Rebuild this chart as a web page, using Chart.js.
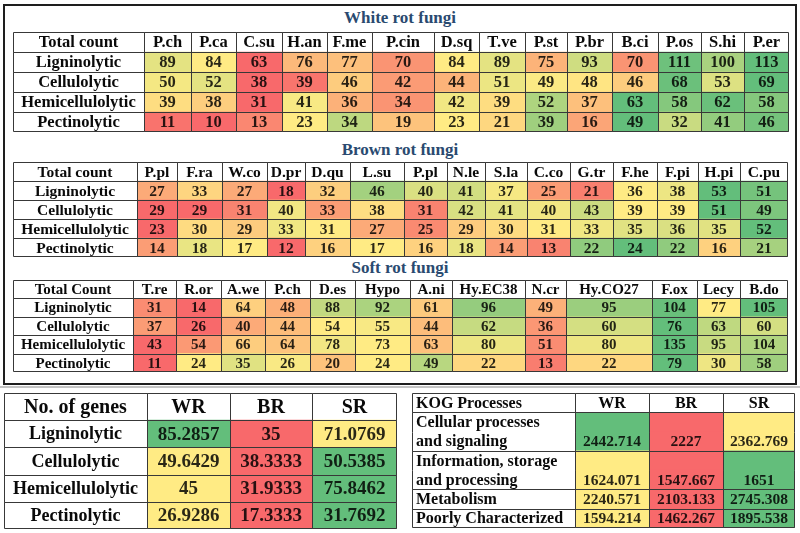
<!DOCTYPE html>
<html>
<head>
<meta charset="utf-8">
<script src="https://cdn.jsdelivr.net/npm/chart.js@4.4.0/dist/chart.umd.min.js"></script>
<style>
  html, body { margin: 0; padding: 0; background: #ffffff; }
  #page { position: relative; width: 800px; height: 533px; overflow: hidden; background: #fff; }
  canvas { position: absolute; display: block; }
  .title { position: absolute; left: 0; width: 800px; text-align: center; font: bold 17px "Liberation Serif", "Times New Roman", serif; color: #2a4a70; line-height: 20px; }
  #frame { position: absolute; left: 3px; top: 4px; width: 794px; height: 381px; box-sizing: border-box; border: 2px solid #1e1e1e; }
  #shadow { position: absolute; left: 0; top: 386px; width: 800px; height: 2px; background: #c4c4c4; }
</style>
</head>
<body>
<div id="page">
  <div id="frame"></div>
  <div id="shadow"></div>
  <div class="title" style="top:8px">White rot fungi</div>
  <div class="title" style="top:140px">Brown rot fungi</div>
  <div class="title" style="top:258px">Soft rot fungi</div>
  <canvas id="white" style="left:13px;top:32px"></canvas>
  <canvas id="brown" style="left:13px;top:162px"></canvas>
  <canvas id="soft" style="left:13px;top:280px"></canvas>
  <canvas id="genes" style="left:4px;top:393px"></canvas>
  <canvas id="kog" style="left:412px;top:393px"></canvas>
</div>
<script>
// ---------------- DATA ----------------
const rowLabels = ['Ligninolytic', 'Cellulolytic', 'Hemicellulolytic', 'Pectinolytic'];

const whiteSpecies = ['P.ch','P.ca','C.su','H.an','F.me','P.cin','D.sq','T.ve','P.st','P.br','B.ci','P.os','S.hi','P.er'];
const whiteLig  = [89, 84, 63, 76, 77, 70, 84, 89, 75, 93, 70, 111, 100, 113];
const whiteCel  = [50, 52, 38, 39, 46, 42, 44, 51, 49, 48, 46, 68, 53, 69];
const whiteHemi = [39, 38, 31, 41, 36, 34, 42, 39, 52, 37, 63, 58, 62, 58];
const whitePec  = [11, 10, 13, 23, 34, 19, 23, 21, 39, 16, 49, 32, 41, 46];

const brownSpecies = ['P.pl','F.ra','W.co','D.pr','D.qu','L.su','P.pl','N.le','S.la','C.co','G.tr','F.he','F.pi','H.pi','C.pu'];
const brownLig  = [27, 33, 27, 18, 32, 46, 40, 41, 37, 25, 21, 36, 38, 53, 51];
const brownCel  = [29, 29, 31, 40, 33, 38, 31, 42, 41, 40, 43, 39, 39, 51, 49];
const brownHemi = [23, 30, 29, 33, 31, 27, 25, 29, 30, 31, 33, 35, 36, 35, 52];
const brownPec  = [14, 18, 17, 12, 16, 17, 16, 18, 14, 13, 22, 24, 22, 16, 21];

const softSpecies = ['T.re','R.or','A.we','P.ch','D.es','Hypo','A.ni','Hy.EC38','N.cr','Hy.CO27','F.ox','Lecy','B.do'];
const softLig  = [31, 14, 64, 48, 88, 92, 61, 96, 49, 95, 104, 77, 105];
const softCel  = [37, 26, 40, 44, 54, 55, 44, 62, 36, 60, 76, 63, 60];
const softHemi = [43, 54, 66, 64, 78, 73, 63, 80, 51, 80, 135, 95, 104];
const softPec  = [11, 24, 35, 26, 20, 24, 49, 22, 13, 22, 79, 30, 58];

const rotGroups = ['WR', 'BR', 'SR'];
const genesLig  = [85.2857, 35, 71.0769];
const genesCel  = [49.6429, 38.3333, 50.5385];
const genesHemi = [45, 31.9333, 75.8462];
const genesPec  = [26.9286, 17.3333, 31.7692];

const kogProcesses = [['Cellular processes', 'and signaling'], ['Information, storage', 'and processing'], ['Metabolism'], ['Poorly Characterized']];
const kogCellular = [2442.714, 2227, 2362.769];
const kogInfo     = [1624.071, 1547.667, 1651];
const kogMeta     = [2240.571, 2103.133, 2745.308];
const kogPoor     = [1594.214, 1462.267, 1895.538];

// ---------------- LAYOUT (column widths in px) ----------------
const whiteWidths = [131, 47, 45, 46, 45, 45, 62, 45, 46, 42, 45, 46, 43, 43, 45];
const brownWidths = [124, 40, 45, 45, 38, 45, 54, 43, 38, 42, 43, 43, 44, 41, 42, 48];
const softWidths  = [120, 43, 45, 44, 45, 45, 55, 42, 73, 41, 86, 45, 43, 48];
const genesWidths = [143, 83, 82, 85];
const kogWidths   = [163, 74, 74, 72];

// ---------------- COLOUR SCALE (Excel 3-colour: min red, median yellow, max green) ----------------
const RED = [248, 105, 107], YEL = [255, 235, 132], GRN = [99, 190, 123];
function median(arr) {
  const s = [...arr].sort((a, b) => a - b);
  const p = (s.length - 1) * 0.5, lo = Math.floor(p), hi = Math.ceil(p);
  return s[lo] + (s[hi] - s[lo]) * (p - lo);
}
function mix(a, b, t) {
  t = Math.max(0, Math.min(1, t));
  return 'rgb(' + a.map((c, i) => Math.round(c + (b[i] - c) * t)).join(',') + ')';
}
function heat(v, row) {
  const mn = Math.min(...row), mx = Math.max(...row), md = median(row);
  if (v <= md) return md === mn ? mix(RED, YEL, 1) : mix(RED, YEL, (v - mn) / (md - mn));
  return mx === md ? mix(YEL, GRN, 1) : mix(YEL, GRN, (v - md) / (mx - md));
}

// ---------------- TABLE PLUGIN ----------------
const tableCells = {
  id: 'tableCells',
  afterDraw(chart, args, opts) {
    const ctx = chart.ctx, W = chart.width, H = chart.height;
    const join = opts.join;
    const sx = v => Math.min(Math.max(Math.round(v), 0), W - 1) + 0.5;
    const sy = v => Math.min(Math.max(Math.round(v), 0), H - 1) + 0.5;
    ctx.save();
    chart.data.datasets.forEach((ds, di) => {
      chart.getDatasetMeta(di).data.forEach((el, ri) => {
        const p = el.getProps(['x', 'y', 'base', 'height'], true);
        const left = Math.min(p.x, p.base), right = Math.max(p.x, p.base);
        const top = p.y - p.height / 2, bottom = p.y + p.height / 2;
        const t = ds.cellText[ri];
        if (t) {
          const isHeader = ri === 0, isLabel = di === 0;
          ctx.font = isHeader ? opts.headerFont : (isLabel ? opts.labelFont : opts.valueFont);
          ctx.fillStyle = (isHeader || isLabel) ? '#0a0a0a' : 'rgba(0,0,0,0.84)';
          ctx.textBaseline = 'middle';
          let tx;
          if (isLabel && opts.labelAlign === 'left') { ctx.textAlign = 'left'; tx = left + opts.labelPad; }
          else { ctx.textAlign = 'center'; tx = (left + right) / 2; }
          ctx.fillText(t, tx, p.y + opts.textShift);
        }
        ctx.strokeStyle = '#383838';
        ctx.lineWidth = 1;
        ctx.beginPath();
        ctx.moveTo(sx(left), sy(top)); ctx.lineTo(sx(left), sy(bottom));
        ctx.moveTo(sx(right), sy(top)); ctx.lineTo(sx(right), sy(bottom));
        if (!join[ri]) { ctx.moveTo(sx(left), sy(top)); ctx.lineTo(sx(right), sy(top)); }
        if (!join[ri + 1]) { ctx.moveTo(sx(left), sy(bottom)); ctx.lineTo(sx(right), sy(bottom)); }
        ctx.stroke();
      });
    });
    ctx.restore();
  }
};

// ---------------- BUILDER ----------------
function buildTable(id, spec) {
  const cv = document.getElementById(id);
  const total = spec.widths.reduce((a, b) => a + b, 0);
  cv.width = total; cv.height = spec.height;
  cv.style.width = total + 'px'; cv.style.height = spec.height + 'px';

  const sub = [];
  sub.push({ label: spec.corner, cells: spec.columns, colors: spec.columns.map(() => '#ffffff'), join: false });
  spec.values.forEach((vals, r) => {
    const lines = spec.rowLines[r];
    const colors = vals.map(v => heat(v, vals));
    lines.forEach((ln, k) => sub.push({
      label: ln,
      cells: vals.map(v => (k === lines.length - 1 ? String(v) : '')),
      colors,
      join: k > 0
    }));
  });

  const datasets = [{
    data: sub.map(() => spec.widths[0]),
    backgroundColor: '#ffffff',
    cellText: sub.map(s => s.label)
  }];
  spec.columns.forEach((c, j) => {
    datasets.push({
      data: sub.map(() => spec.widths[j + 1]),
      backgroundColor: sub.map(s => s.colors[j]),
      cellText: sub.map(s => s.cells[j])
    });
  });

  return new Chart(cv, {
    type: 'bar',
    data: { labels: sub.map((s, i) => 'row' + i), datasets },
    options: {
      indexAxis: 'y',
      responsive: false,
      animation: false,
      devicePixelRatio: 1,
      layout: { padding: 0 },
      datasets: { bar: { barPercentage: 1, categoryPercentage: 1, borderWidth: 0 } },
      scales: {
        x: { type: 'linear', stacked: true, display: false, min: 0, max: total },
        y: { stacked: true, display: false }
      },
      plugins: {
        legend: { display: false },
        tooltip: { enabled: false },
        tableCells: {
          join: sub.map(s => s.join),
          headerFont: spec.headerFont,
          labelFont: spec.labelFont,
          valueFont: spec.valueFont,
          labelAlign: spec.labelAlign || 'center',
          labelPad: 4,
          textShift: spec.textShift || 1
        }
      }
    },
    plugins: [tableCells]
  });
}

const SERIF = '"Liberation Serif", "Times New Roman", serif';
const single = rowLabels.map(l => [l]);

buildTable('white', {
  widths: whiteWidths, height: 100, corner: 'Total count', columns: whiteSpecies,
  rowLines: single, values: [whiteLig, whiteCel, whiteHemi, whitePec],
  headerFont: 'bold 16.5px ' + SERIF, labelFont: 'bold 16.5px ' + SERIF, valueFont: 'bold 16.5px ' + SERIF
});
buildTable('brown', {
  widths: brownWidths, height: 95, corner: 'Total count', columns: brownSpecies,
  rowLines: single, values: [brownLig, brownCel, brownHemi, brownPec],
  headerFont: 'bold 15.5px ' + SERIF, labelFont: 'bold 15.5px ' + SERIF, valueFont: 'bold 15.5px ' + SERIF
});
buildTable('soft', {
  widths: softWidths, height: 92, corner: 'Total Count', columns: softSpecies,
  rowLines: single, values: [softLig, softCel, softHemi, softPec],
  headerFont: 'bold 15px ' + SERIF, labelFont: 'bold 15px ' + SERIF, valueFont: 'bold 15px ' + SERIF
});
buildTable('genes', {
  widths: genesWidths, height: 136, corner: 'No. of genes', columns: rotGroups,
  rowLines: single, values: [genesLig, genesCel, genesHemi, genesPec],
  headerFont: 'bold 20px ' + SERIF, labelFont: 'bold 18px ' + SERIF, valueFont: 'bold 19px ' + SERIF
});
buildTable('kog', {
  widths: kogWidths, height: 135, corner: 'KOG Processes', columns: rotGroups,
  rowLines: kogProcesses, values: [kogCellular, kogInfo, kogMeta, kogPoor],
  headerFont: 'bold 16px ' + SERIF, labelFont: 'bold 16px ' + SERIF, valueFont: 'bold 15.5px ' + SERIF,
  labelAlign: 'left'
});
</script>
</body>
</html>
